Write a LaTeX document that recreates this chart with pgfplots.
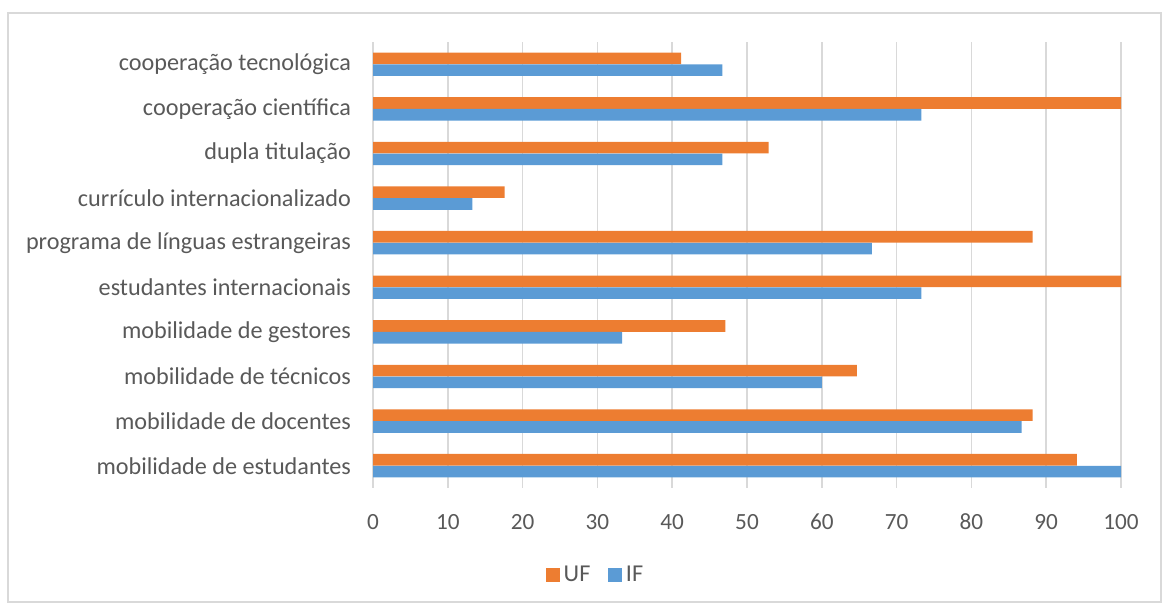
\documentclass[border=0pt]{standalone}
\usepackage{pgfplots}
\pgfplotsset{compat=1.18}
\usepackage{fontspec}
\setmainfont{Carlito}
\definecolor{cUF}{HTML}{ED7D31}
\definecolor{cIF}{HTML}{5B9BD5}
\definecolor{gridc}{HTML}{D9D9D9}
\definecolor{txt}{HTML}{595959}
\begin{document}
\begin{tikzpicture}
\path[use as bounding box] (0pt,0pt) rectangle (583.5pt,301.5pt);
\draw[gridc, line width=0.6pt] (4pt,0.5pt) rectangle (580.5pt,295pt);
\begin{axis}[
  at={(186.5pt,57.5pt)}, anchor=south west,
  scale only axis, width=374pt, height=223pt,
  xbar, bar width=5.8pt,
  xmin=0, xmax=100, ymin=-0.5, ymax=9.5,
  xtick={0,10,...,100},
  ytick={0,...,9},
  yticklabels={mobilidade de estudantes, mobilidade de docentes, mobilidade de técnicos, mobilidade de gestores, estudantes internacionais, programa de línguas estrangeiras, currículo internacionalizado, dupla titulação, cooperação científica, cooperação tecnológica},
  xmajorgrids=true, ymajorgrids=false, major grid style={draw=gridc, line width=0.8pt},
  axis x line*=bottom, axis y line*=left,
  x axis line style={draw=none},
  y axis line style={draw=gridc, line width=0.8pt},
  major tick length=0pt,
  tick style={draw=none},
  xticklabel style={font=\fontsize{11.6}{13}\selectfont, text=txt, yshift=-9.5pt},
  yticklabel style={font=\fontsize{12.1}{14}\selectfont, text=txt, xshift=-7.5pt},
  /pgf/number format/assume math mode=true,
  legend style={at={(0.299,-0.195)}, anchor=center, draw=none, legend columns=2, font=\fontsize{12.1}{13}\selectfont, text=txt, /tikz/every even column/.append style={column sep=7pt}},
  legend image code/.code={\fill[#1] (0pt,-3.4pt) rectangle (6.8pt,3.4pt);},
]
\addplot[fill=cUF, draw=none, bar shift=2.95pt] coordinates {
(94.1,0) (88.2,1) (64.7,2) (47.1,3) (100,4) (88.2,5) (17.6,6) (52.9,7) (100,8) (41.2,9)};
\addlegendentry{UF}
\addplot[fill=cIF, draw=none, bar shift=-2.95pt] coordinates {
(100,0) (86.7,1) (60,2) (33.3,3) (73.3,4) (66.7,5) (13.3,6) (46.7,7) (73.3,8) (46.7,9)};
\addlegendentry{IF}
\end{axis}
\end{tikzpicture}
\end{document}
